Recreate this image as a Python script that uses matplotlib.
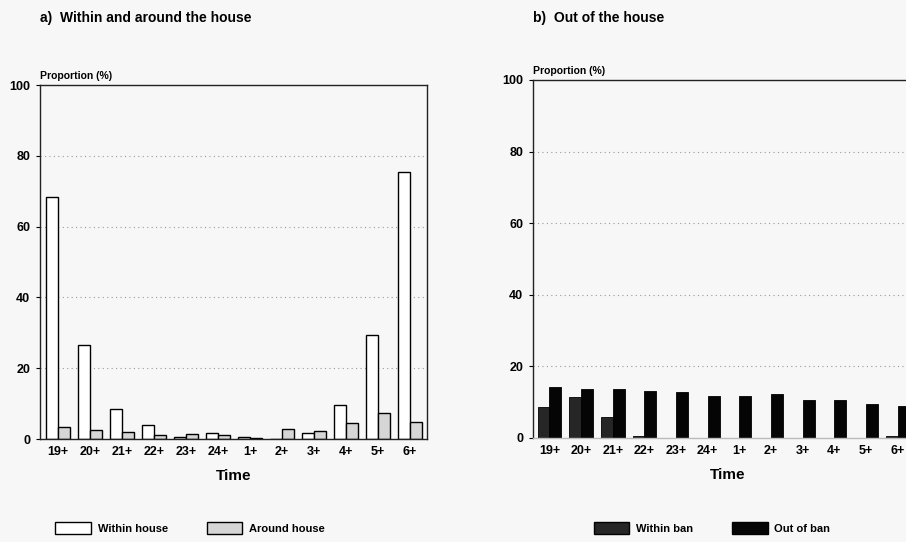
import numpy as np
import matplotlib.pyplot as plt
from matplotlib.patches import Patch

plt.rcParams['font.family'] = ['Liberation Sans', 'DejaVu Sans']
plt.rcParams['font.weight'] = 'bold'

times = ['19+', '20+', '21+', '22+', '23+', '24+', '1+', '2+', '3+', '4+', '5+', '6+']

# panel a
within_house = [68.5, 26.5, 8.5, 4.0, 0.6, 1.8, 0.5, 0.0, 1.8, 9.5, 29.5, 75.5]
around_house = [3.5, 2.5, 2.0, 1.0, 1.3, 1.0, 0.3, 2.8, 2.4, 4.4, 7.4, 4.8]

# panel b
within_ban = [8.7, 11.5, 5.8, 0.6, 0.0, 0.0, 0.0, 0.0, 0.0, 0.0, 0.0, 0.6]
out_of_ban = [14.3, 13.6, 13.8, 13.1, 12.9, 11.6, 11.6, 12.2, 10.6, 10.5, 9.5, 8.8]

x = np.arange(len(times))
w = 0.375

fig = plt.figure(figsize=(9.06, 5.42), dpi=100)
fig.patch.set_facecolor('#f7f7f7')

def style_axes(ax):
  ax.set_facecolor('#f7f7f7')
  ax.set_ylim(0, 100)
  ax.set_yticks([0, 20, 40, 60, 80, 100])
  ax.set_xticks(x)
  ax.set_xticklabels(times)
  ax.tick_params(axis='y', length=3, width=0.8, labelsize=9, pad=4)
  ax.tick_params(axis='x', length=0, labelsize=9, pad=5)
  for t in ax.get_xticklabels() + ax.get_yticklabels():
    t.set_fontweight('bold')
  ax.yaxis.grid(True, linestyle=(0, (1, 3)), color='#999999', linewidth=0.8)
  ax.set_axisbelow(True)
  for s in ax.spines.values():
    s.set_linewidth(1.0)
    s.set_color('#222222')
  ax.set_xlabel('Time', fontsize=11, fontweight='bold', labelpad=8)

# a) within and around the house
ax1 = fig.add_axes([40/906, 1-439/542, 387/906, 354/542])
ax1.bar(x - w/2, within_house, w, color='white', edgecolor='black', linewidth=1.0)
ax1.bar(x + w/2, around_house, w, color='#d6d6d6', edgecolor='black', linewidth=1.0)
ax1.set_xlim(-0.56, 11.53)
style_axes(ax1)
ax1.text(0, 1.012, 'Proportion (%)', transform=ax1.transAxes, fontsize=7.5,
         fontweight='bold', ha='left', va='bottom')
fig.text(40/906, 1-18/542, 'a)  Within and around the house', fontsize=10,
         fontweight='bold', ha='left', va='center')

# b) out of the house
ax2 = fig.add_axes([533/906, 1-438/542, 390/906, 358/542])
ax2.bar(x - w/2, within_ban, w, color='#262626', edgecolor='black', linewidth=0.6)
ax2.bar(x + w/2, out_of_ban, w, color='#050505', edgecolor='black', linewidth=0.6)
ax2.set_xlim(-0.52, 11.8)
style_axes(ax2)
ax2.spines['bottom'].set_color('#bbbbbb')
ax2.text(0, 1.012, 'Proportion (%)', transform=ax2.transAxes, fontsize=7.5,
         fontweight='bold', ha='left', va='bottom')
fig.text(533/906, 1-18/542, 'b)  Out of the house', fontsize=10,
         fontweight='bold', ha='left', va='center')

# legends
h1 = [Patch(facecolor='white', edgecolor='black', label='Within house'),
      Patch(facecolor='#d6d6d6', edgecolor='black', label='Around house')]
fig.legend(handles=h1, loc='center', bbox_to_anchor=(190/906, 1-528/542), ncol=2,
           frameon=False, handlelength=3.2, handleheight=1.3, handletextpad=0.6,
           columnspacing=3.5, prop={'weight': 'bold', 'size': 8})
h2 = [Patch(facecolor='#262626', edgecolor='black', label='Within ban'),
      Patch(facecolor='#050505', edgecolor='black', label='Out of ban')]
fig.legend(handles=h2, loc='center', bbox_to_anchor=(712/906, 1-528/542), ncol=2,
           frameon=False, handlelength=3.2, handleheight=1.3, handletextpad=0.6,
           columnspacing=3.5, prop={'weight': 'bold', 'size': 8})

fig.savefig('out.png', dpi=100, facecolor=fig.get_facecolor())
